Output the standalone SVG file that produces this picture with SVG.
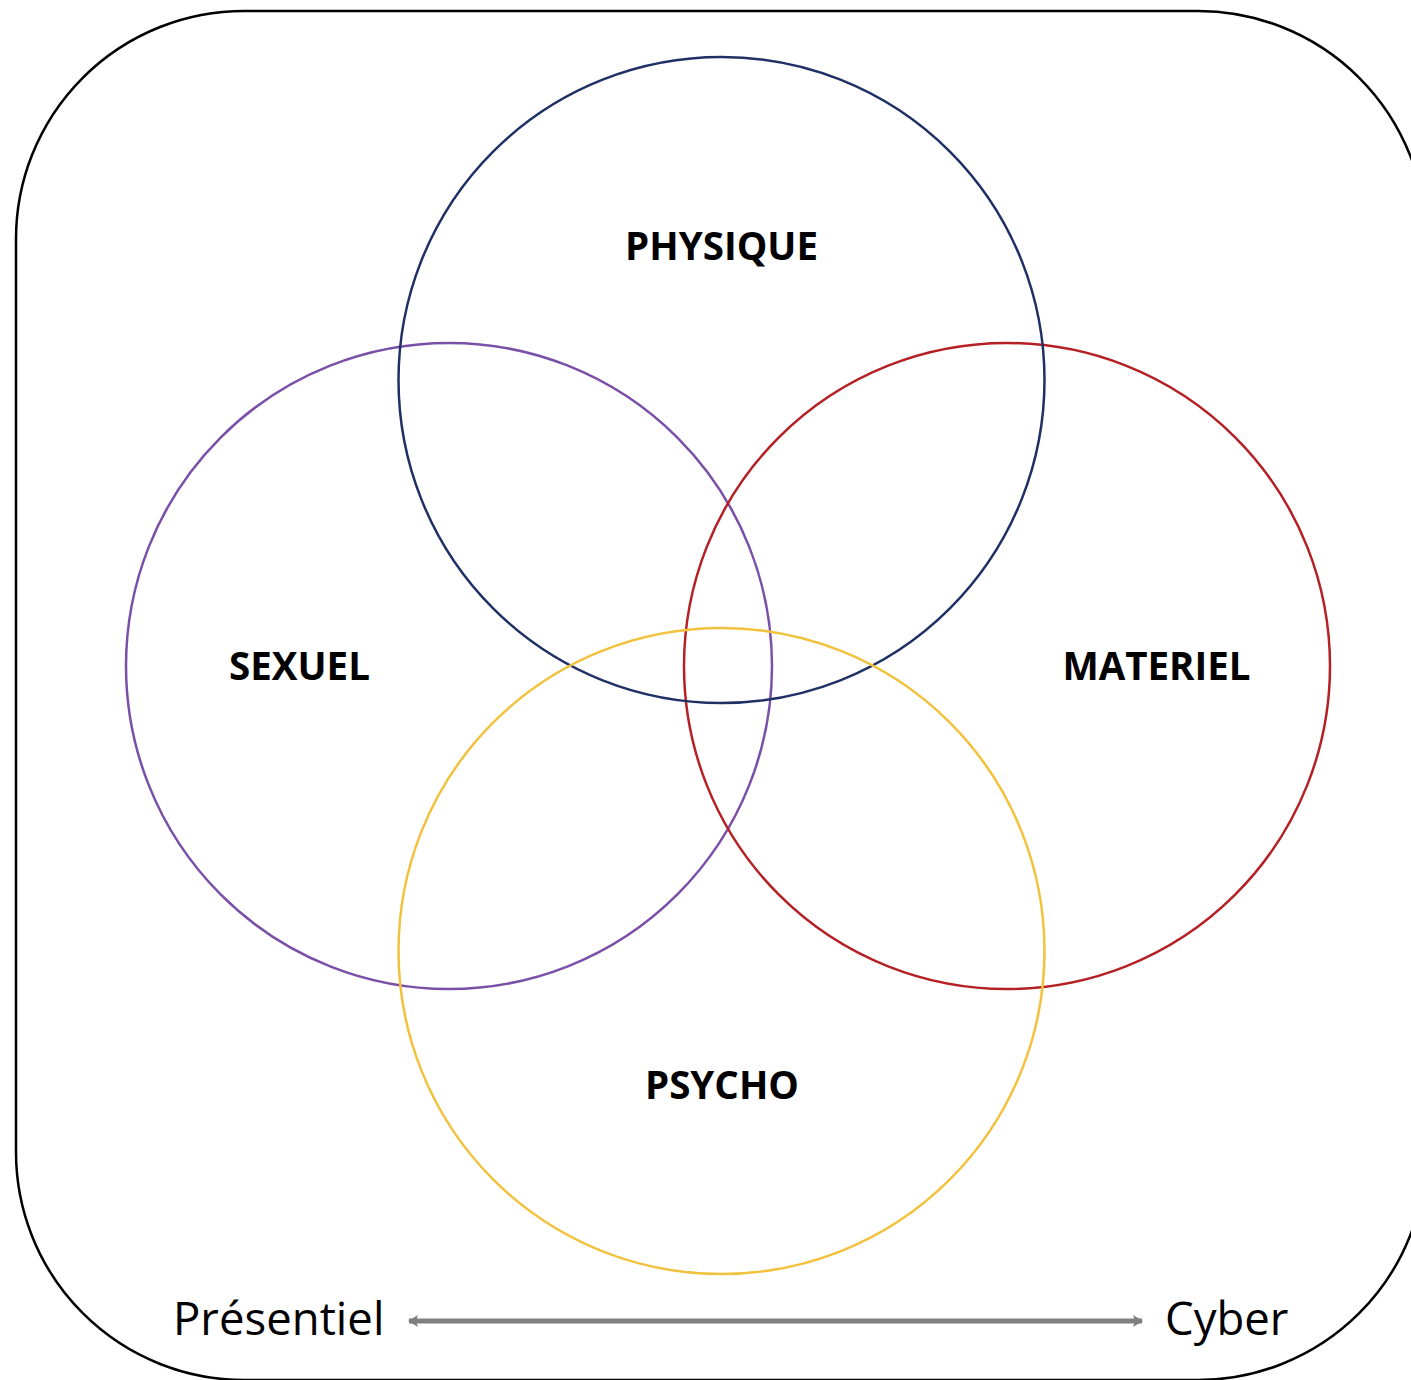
<svg xmlns="http://www.w3.org/2000/svg" width="1411" height="1380" viewBox="0 0 1411 1380">
  <style>
    .ring { fill: none; stroke-width: 2.5; }
    .label { font-family: "Open Sans", "Liberation Sans", sans-serif; font-weight: 700; font-size: 38.5px; fill: #000; text-anchor: middle; }
    .axis { font-family: "Open Sans", "Liberation Sans", sans-serif; font-size: 45.5px; fill: #000; }
  </style>
  <defs>
    <marker id="head" viewBox="0 0 10 12" refX="9" refY="6" markerWidth="10" markerHeight="12" markerUnits="userSpaceOnUse" orient="auto-start-reverse">
      <path d="M0,0 L10,6 L0,12 L2,6 Z" fill="#7f7f7f"/>
    </marker>
  </defs>
  <rect width="1411" height="1380" fill="#fff"/>

  <!-- rounded frame -->
  <rect id="frame" x="16" y="11" width="1410" height="1369" rx="228" ry="228" fill="none" stroke="#000" stroke-width="2.5"/>

  <g id="sexuel">
    <circle class="ring" cx="449" cy="666" r="323" stroke="#7a4fa8"/>
    <text class="label" x="299.5" y="680">SEXUEL</text>
  </g>
  <g id="materiel">
    <circle class="ring" cx="1007" cy="666" r="323" stroke="#b52025"/>
    <text class="label" x="1156.5" y="680">MATERIEL</text>
  </g>
  <g id="physique">
    <circle class="ring" cx="721.5" cy="380" r="323" stroke="#1f3064"/>
    <text class="label" x="721.5" y="260">PHYSIQUE</text>
  </g>
  <g id="psycho">
    <circle class="ring" cx="721.5" cy="951" r="323" stroke="#f2c23e"/>
    <text class="label" x="722" y="1099">PSYCHO</text>
  </g>

  <!-- Présentiel / Cyber axis -->
  <g id="connectors">
    <line x1="409" y1="1321" x2="1142" y2="1321" stroke="#7f7f7f" stroke-width="5" marker-start="url(#head)" marker-end="url(#head)"/>
  </g>
  <g id="axis-presentiel">
    <text class="axis" x="173" y="1335">Présentiel</text>
  </g>
  <g id="axis-cyber">
    <text class="axis" x="1165" y="1335">Cyber</text>
  </g>
</svg>
